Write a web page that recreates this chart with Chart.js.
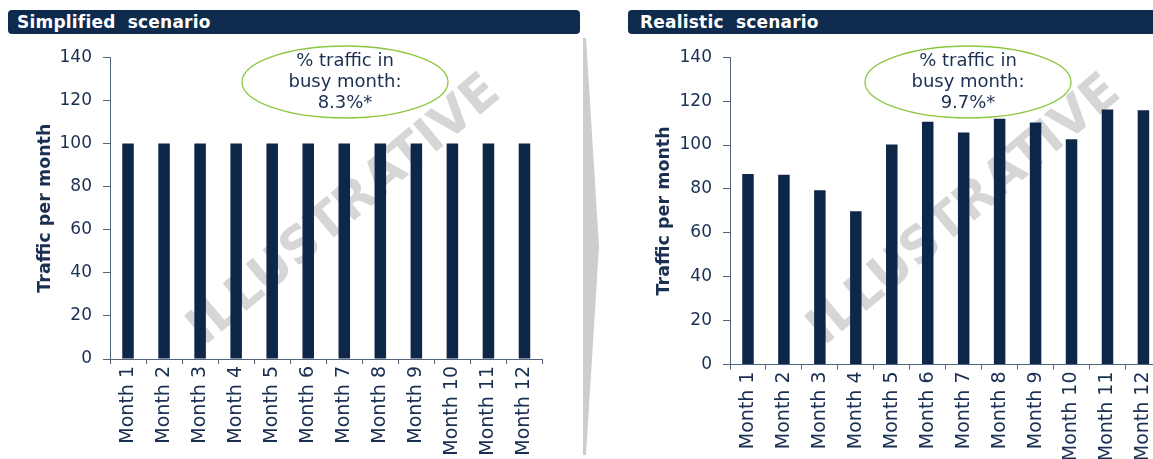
<!DOCTYPE html>
<html lang="en">
<head>
    <meta charset="UTF-8">
    <title>Simplified vs realistic scenario</title>
    <script src="https://cdn.jsdelivr.net/npm/chart.js"></script>
    <style>
        body {
            margin: 0;
            width: 1153px;
            height: 459px;
            overflow: hidden;
            background: #ffffff;
            position: relative;
            font-family: 'DejaVu Sans', sans-serif;
        }

        /* Dark title bars above each chart */
        .header {
            position: absolute;
            top: 10px;
            height: 24px;
            line-height: 24px;
            background: #0e2a4d;
            color: #ffffff;
            font-weight: bold;
            font-size: 17px;
            letter-spacing: 0.2px;
            border-radius: 4px;
            white-space: pre;
            box-sizing: border-box;
            padding-left: 9px;
        }
        #headLeft { left: 8px; width: 572px; }
        #headRight { left: 628px; width: 540px; padding-left: 12px; }

        .box { position: absolute; top: 36px; height: 423px; }
        #boxLeft { left: 0; width: 560px; }
        #boxRight { left: 600px; width: 600px; }

        #arrow { position: absolute; left: 0; top: 0; }
    </style>
</head>
<body>
    <div class="header" id="headLeft">Simplified  scenario</div>
    <div class="header" id="headRight">Realistic  scenario</div>

    <svg id="arrow" width="1153" height="459">
        <polygon points="583,38 586,38 599,247 586,455 583,455" fill="#cdcdcd"></polygon>
    </svg>

    <div class="box" id="boxLeft"><canvas id="chartLeft" width="560" height="423"></canvas></div>
    <div class="box" id="boxRight"><canvas id="chartRight" width="600" height="423"></canvas></div>

    <script>
        // data
        const months = ['Month 1', 'Month 2', 'Month 3', 'Month 4', 'Month 5', 'Month 6',
                        'Month 7', 'Month 8', 'Month 9', 'Month 10', 'Month 11', 'Month 12'];
        const simplifiedTraffic = [100, 100, 100, 100, 100, 100, 100, 100, 100, 100, 100, 100];
        const realisticTraffic = [86.8, 86.4, 79.4, 69.8, 100.2, 110.6, 105.7, 112, 110.2, 102.6, 116.2, 115.8];
        const yTicks = [0, 20, 40, 60, 80, 100, 120, 140];
        const simplifiedNote = ['% traffic in', 'busy month:', '8.3%*'];
        const realisticNote = ['% traffic in', 'busy month:', '9.7%*'];

        const navy = '#0e2748';
        const textColor = '#1a2f51';
        const axisColor = '#53647f';
        const tickFont = "'DejaVu Sans', sans-serif";

        // grey "ILLUSTRATIVE" stamp behind the bars, and the green note ellipse on top
        const decorPlugin = {
            id: 'decor',
            beforeDatasetsDraw(chart, args, opts) {
                const ctx = chart.ctx;
                const a = chart.chartArea;
                ctx.save();
                ctx.translate(a.left + opts.stampX, a.top + opts.stampY);
                ctx.rotate(-40 * Math.PI / 180);
                ctx.fillStyle = '#d6d6d6';
                ctx.font = "bold 50px 'DejaVu Sans'";
                ctx.textAlign = 'center';
                ctx.textBaseline = 'middle';
                ctx.fillText('ILLUSTRATIVE', 0, 0);
                ctx.restore();
            },
            afterDraw(chart, args, opts) {
                const ctx = chart.ctx;
                ctx.save();
                ctx.beginPath();
                ctx.ellipse(opts.noteX, opts.noteY, 103, 36, 0, 0, Math.PI * 2);
                ctx.lineWidth = 1.3;
                ctx.strokeStyle = '#8cc63f';
                ctx.stroke();
                ctx.fillStyle = textColor;
                ctx.font = "18px " + tickFont;
                ctx.textAlign = 'center';
                ctx.textBaseline = 'middle';
                opts.lines.forEach((line, i) => {
                    ctx.fillText(line, opts.noteX, opts.noteY - 20.5 + i * 21);
                });
                ctx.restore();
            }
        };

        function makeChart(id, values, note, cfg) {
            return new Chart(document.getElementById(id), {
                type: 'bar',
                data: {
                    labels: months,
                    datasets: [{
                        data: values,
                        backgroundColor: navy,
                        barPercentage: 0.32,
                        categoryPercentage: 1.0
                    }]
                },
                plugins: [decorPlugin],
                options: {
                    responsive: false,
                    animation: false,
                    devicePixelRatio: 1,
                    layout: { padding: { top: cfg.padTop, right: cfg.padRight, left: 0, bottom: 0 } },
                    plugins: {
                        legend: { display: false },
                        tooltip: { enabled: false },
                        decor: { stampX: 235, stampY: 154, noteX: cfg.noteX, noteY: 46, lines: note }
                    },
                    scales: {
                        x: {
                            afterFit(scale) { scale.height = cfg.xHeight; },
                            grid: { drawOnChartArea: false, tickLength: 5, color: axisColor },
                            border: { color: axisColor },
                            ticks: {
                                color: textColor,
                                font: { family: tickFont, size: 19 },
                                maxRotation: 90,
                                minRotation: 90,
                                padding: 2,
                                autoSkip: false
                            }
                        },
                        y: {
                            min: 0,
                            max: 140,
                            afterFit(scale) { scale.width = cfg.yWidth; },
                            afterBuildTicks(scale) { scale.ticks = yTicks.map(v => ({ value: v })); },
                            grid: { drawOnChartArea: false, tickLength: 7, color: axisColor },
                            border: { color: axisColor },
                            ticks: {
                                color: textColor,
                                font: { family: tickFont, size: 17 },
                                padding: 11
                            },
                            title: {
                                display: true,
                                text: 'Traffic per month',
                                color: textColor,
                                font: { family: "'DejaVu Sans'", size: 17.5, weight: 'bold', lineHeight: 1.2 },
                                padding: { top: cfg.titlePad, bottom: 0 }
                            }
                        }
                    }
                }
            });
        }

        makeChart('chartLeft', simplifiedTraffic, simplifiedNote,
            { padTop: 15, padRight: 17.5, xHeight: 100, yWidth: 110, titlePad: 34.5, noteX: 345 });
        makeChart('chartRight', realisticTraffic, realisticNote,
            { padTop: 19, padRight: 38.6, xHeight: 94.5, yWidth: 130, titlePad: 54, noteX: 368 });
    </script>
</body>
</html>
